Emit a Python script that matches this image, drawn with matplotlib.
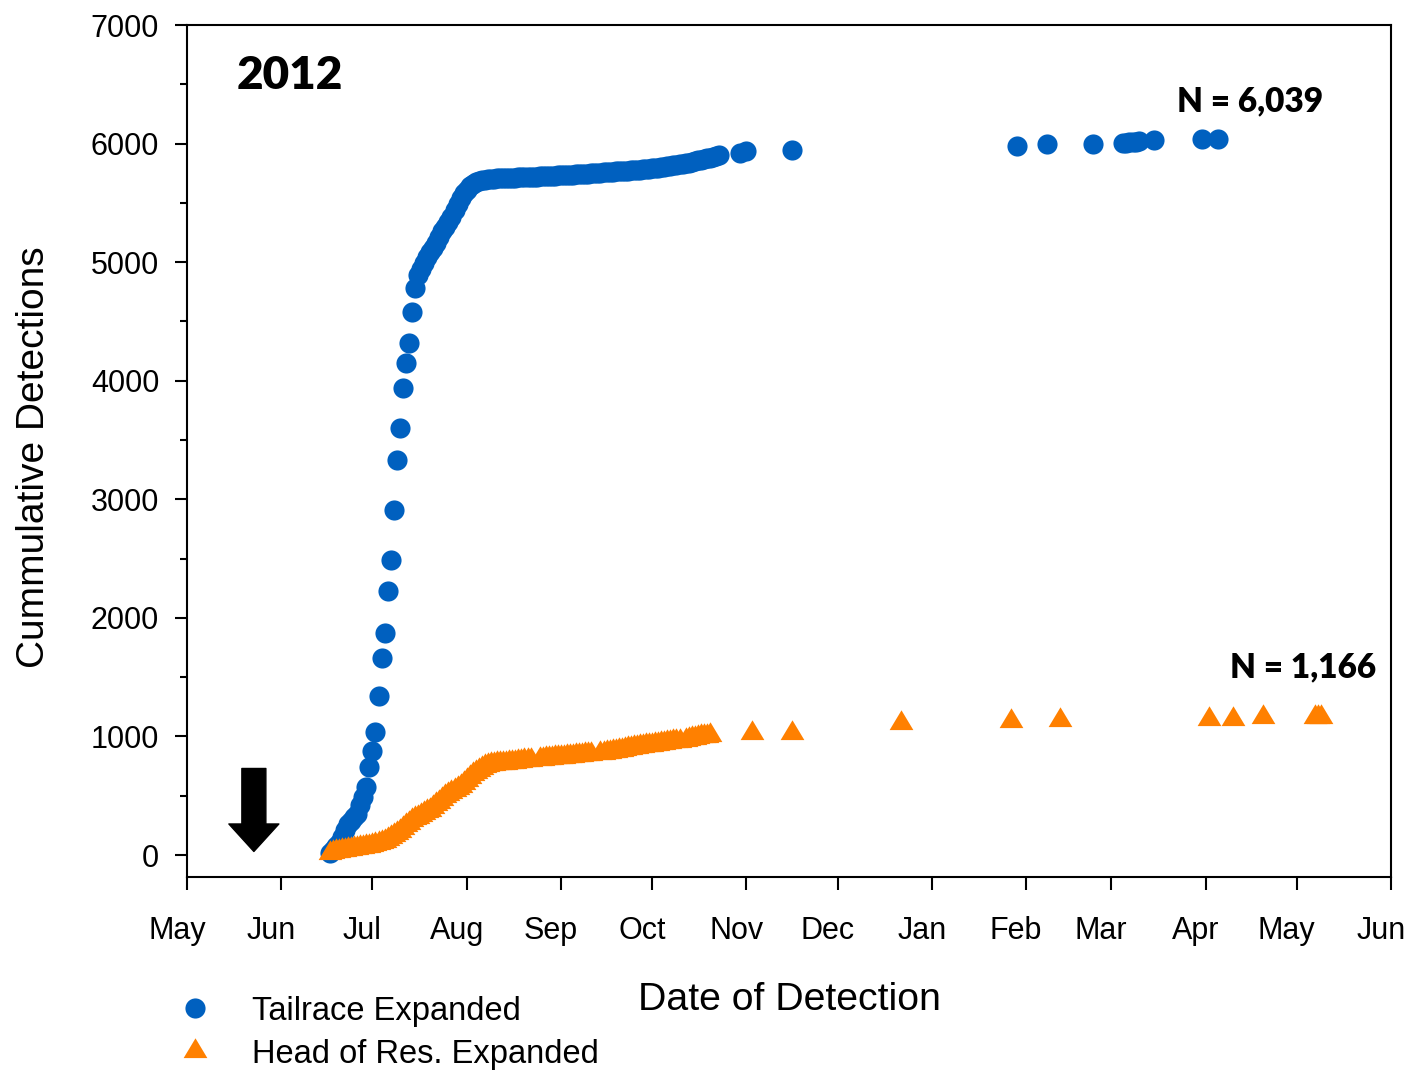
import numpy as np
import pandas as pd
import matplotlib
matplotlib.use("Agg")
import matplotlib.pyplot as plt
import matplotlib.dates as mdates
from matplotlib.path import Path
from matplotlib.transforms import ScaledTranslation

# Tailrace expanded: daily cumulative detections from 17 Jun 2012
tailrace_start = "2012-06-17"
tailrace_daily = [
    20, 45, 75, 100, 150, 210, 260, 290, 320, 350, 420, 490, 575,
    742, 877, 1037, 1341, 1661, 1872, 2227, 2488, 2910, 3332, 3602, 3939,
    4150, 4318, 4579, 4784,
    4890, 4940, 4990, 5040, 5085, 5120, 5160, 5210, 5260, 5300, 5340, 5380,
    5440, 5490, 5540, 5580, 5610, 5640, 5660, 5675, 5685, 5690, 5695, 5700,
    5703, 5705, 5706, 5708, 5710, 5711, 5712, 5713, 5714, 5715,
    5716, 5717, 5718, 5720, 5721, 5722, 5724, 5725, 5727, 5728,
    5729, 5730, 5732, 5733, 5735, 5736, 5738, 5739, 5741, 5742,
    5744, 5746, 5747, 5749, 5751, 5753, 5755, 5757, 5759, 5761,
    5763, 5765, 5767, 5769, 5771, 5773, 5775, 5777, 5779, 5781,
    5783, 5786, 5789, 5792, 5795, 5798, 5802, 5806, 5810, 5814,
    5818, 5822, 5826, 5830, 5835, 5840, 5846, 5852, 5858, 5864,
    5870, 5876, 5882, 5888, 5895, 5902,
]
# later, scattered detections
tailrace_late_dates = ["2012-10-30", "2012-11-01", "2012-11-16", "2013-01-29",
                       "2013-02-08", "2013-02-23", "2013-03-05", "2013-03-06",
                       "2013-03-07", "2013-03-08", "2013-03-09", "2013-03-10",
                       "2013-03-15", "2013-03-31", "2013-04-05"]
tailrace_late = [5925, 5937, 5945, 5982, 5994, 5997, 6003, 6006,
                 6010, 6013, 6017, 6020, 6028, 6035, 6039]

# Head of reservoir expanded: daily cumulative from 17 Jun 2012 (nan = no record)
nan = np.nan
head_start = "2012-06-17"
head_daily = [
    15, 22, 30, 35, 40, 45, 50, 55, 60, 63, 66, 69, 72,
    80, 88, 96, 104, 112, 120, 135, 150, 165, 183, 205, 225, 250, 272, 295,
    310, 325, 340, 355, 368, 380, 405, 428, 450, 473, 495, 512, 530, 547,
    563, 580, 605, 630, 655, 680, 700, 720, 735, 748, 758,
    766, 770, 772, 775, 777, 779, 781, 783, 786, 790, 794, 798, 801, 803,
    nan, nan, 808, 811, 815, 818, 821, 824, 826, 829, 831, 834, 836, 839,
    841, 843, 846, 849, 852, 854, nan, nan, 860, 864, 868, 872, 876, 880,
    884, 888, 892, 900, 904, 908, 912, 916, 920, 924, 928, 932, 936, 940,
    943, 946, 950, 954, 958, 961, 965, nan, 972, 978, 984, 990, 996, 1000,
    1004, 1008, 1012,
]
head_late_dates = ["2012-11-03", "2012-11-16", "2012-12-22", "2013-01-27",
                   "2013-02-12", "2013-04-02", "2013-04-10", "2013-04-20",
                   "2013-05-07", "2013-05-08", "2013-05-09"]
head_late = [1026, 1032, 1116, 1130, 1136, 1145, 1151, 1160, 1163, 1164, 1166]

release_date = "2012-05-23"

blue = "#0060BF"
orange = "#FF8000"

t_dates = list(pd.date_range(tailrace_start, periods=len(tailrace_daily))) + \
    list(pd.to_datetime(tailrace_late_dates))
t_vals = tailrace_daily + tailrace_late
h_dates = list(pd.date_range(head_start, periods=len(head_daily))) + \
    list(pd.to_datetime(head_late_dates))
h_vals = head_daily + head_late

# triangle whose centroid sits on the data point
tri = Path([(0, 2), (-1.8, -1), (1.8, -1), (0, 2)],
           [Path.MOVETO, Path.LINETO, Path.LINETO, Path.CLOSEPOLY])

fig = plt.figure(figsize=(14.08, 10.70), dpi=100)
ax = fig.add_axes([0.1328, 0.1804, 0.8551, 0.7962])

ax.plot(t_dates, t_vals, linestyle="none", marker="o", markersize=14.5,
        color=blue, markeredgewidth=0, label="Tailrace Expanded")
ax.plot(h_dates, h_vals, linestyle="none", marker=tri, markersize=19,
        color=orange, markeredgewidth=0, label="Head of Res. Expanded")

ax.set_xlim(pd.Timestamp("2012-05-01"), pd.Timestamp("2013-06-01"))
ax.set_ylim(-185, 7000)
ax.set_yticks(np.arange(0, 7001, 1000))
ax.set_yticks(np.arange(500, 7000, 1000), minor=True)
ax.xaxis.set_major_locator(mdates.MonthLocator())
ax.xaxis.set_major_formatter(mdates.DateFormatter("%b"))

for s in ax.spines.values():
    s.set_linewidth(1.5)
ax.tick_params(axis="both", which="major", direction="out", length=9,
               width=1.5, labelsize=22, color="black")
ax.tick_params(axis="y", which="minor", direction="out", length=5, width=1.5)
ax.tick_params(axis="x", which="major", pad=19)
ax.tick_params(axis="y", which="major", pad=11)
for lab in ax.get_xticklabels():
    lab.set_transform(lab.get_transform() +
                      ScaledTranslation(-0.1, 0, fig.dpi_scale_trans))

for lab in ax.get_xticklabels() + ax.get_yticklabels():
    lab.set_family("Liberation Sans")

ax.set_xlabel("Date of Detection", fontsize=28.3, family="Liberation Sans")
ax.xaxis.set_label_coords(0.5, -0.123)
ax.set_ylabel("Cummulative Detections", fontsize=28, family="Liberation Sans")
ax.yaxis.set_label_coords(-0.112, 0.493)

# release arrow
ax.annotate("", xy=(pd.Timestamp(release_date), 30),
            xytext=(pd.Timestamp(release_date), 730),
            arrowprops=dict(arrowstyle="simple,head_width=1.0,head_length=0.55,tail_width=0.48",
                            color="black", shrinkA=0, shrinkB=0, mutation_scale=36))

ax.text(0.0415, 0.941, "2012", transform=ax.transAxes, ha="left", va="center",
        fontsize=33, fontweight="heavy", family="Lato")
ax.text(0.8223, 0.9108, "N = 6,039", transform=ax.transAxes, ha="left",
        va="center", fontsize=24, fontweight="heavy", family="Lato")
ax.text(0.8663, 0.2465, "N = 1,166", transform=ax.transAxes, ha="left",
        va="center", fontsize=24, fontweight="heavy", family="Lato")

fig.legend(loc="upper left", bbox_to_anchor=(0.121, 0.0695), frameon=False,
           prop={"family": "Liberation Sans", "size": 23.5}, handlelength=1.5,
           handletextpad=1.0, borderpad=0, borderaxespad=0, labelspacing=0.37,
           numpoints=1)

fig.savefig("out.png", dpi=100)
